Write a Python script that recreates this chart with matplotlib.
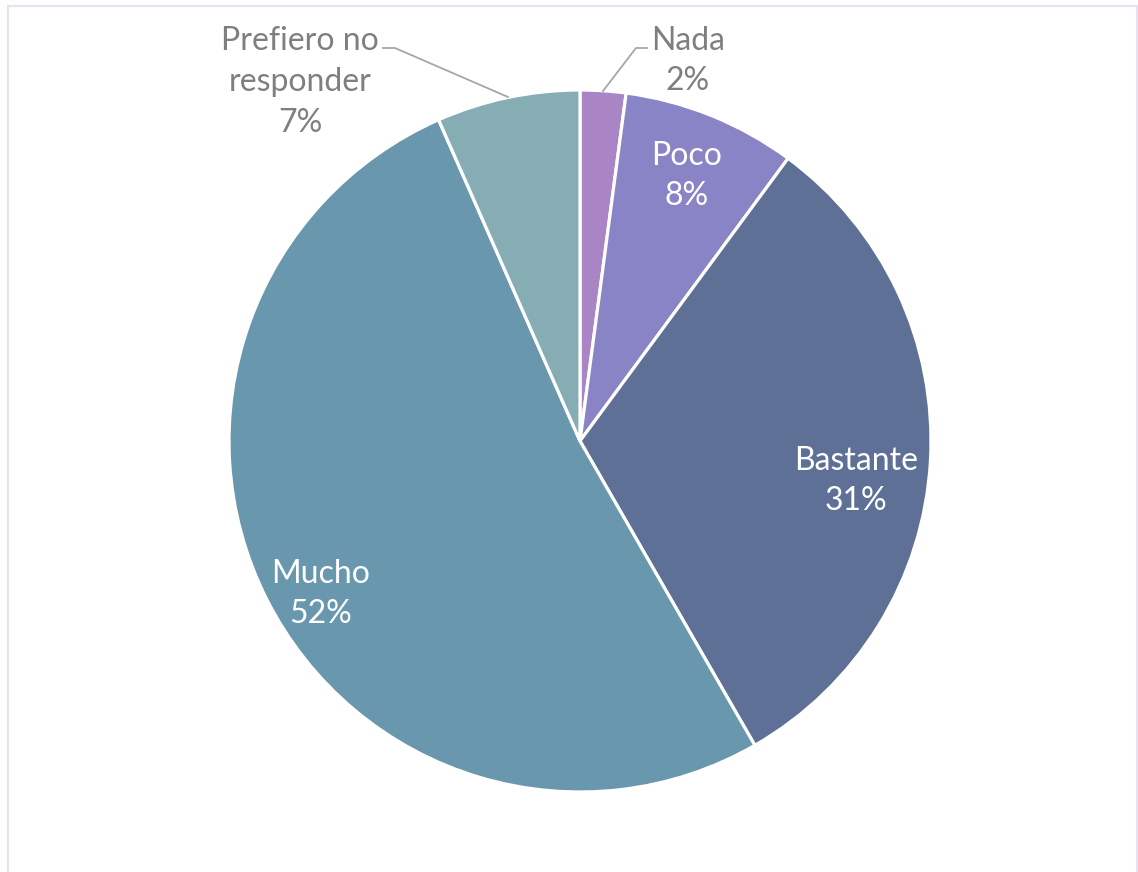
import matplotlib
matplotlib.use("Agg")
import matplotlib.pyplot as plt
from matplotlib.patches import Rectangle

categories = ["Nada", "Poco", "Bastante", "Mucho", "Prefiero no\nresponder"]
values = [2.1, 8.0, 31.6, 51.7, 6.6]
pct_labels = ["2%", "8%", "31%", "52%", "7%"]
colors = ["#A985C6", "#8884C6", "#5E7096", "#6897AE", "#86ACB4"]

W, H = 1138, 872
plt.rcParams['font.family'] = ['Lato', 'DejaVu Sans']
fig = plt.figure(figsize=(W / 100, H / 100), dpi=100)
ax = fig.add_axes([0, 0, 1, 1])

def Y(yp):
    return H - yp

cx, cy, r = 580, Y(441), 351
ax.pie(values, colors=colors, startangle=90, counterclock=False,
       center=(cx, cy), radius=r, frame=True,
       wedgeprops=dict(edgecolor="white", linewidth=2.3))
ax.set_xlim(0, W)
ax.set_ylim(0, H)
ax.axis("off")

# chart border
ax.add_patch(Rectangle((8.5, -10), 1129, Y(6.5) + 10, fill=False,
                       edgecolor="#E9E1F2", linewidth=1.5, zorder=0))

fs = 23
label_pos = [(688, 61), (687, 176), (856, 481), (321, 594), (300, 82)]
text_colors = ["#7F7F7F", "white", "white", "white", "#7F7F7F"]
for cat, pct, (x, y), tc in zip(categories, pct_labels, label_pos, text_colors):
    ax.text(x, Y(y), f"{cat}\n{pct}", ha="center", va="center",
            fontsize=fs, color=tc, linespacing=1.45)

# leader lines
ax.plot([603, 636, 647], [Y(91), Y(48), Y(48)], color="#A6A6A6", lw=1.3)
ax.plot([383, 395, 508], [Y(48), Y(48), Y(97)], color="#A6A6A6", lw=1.3)

fig.savefig("out.png", dpi=100)
